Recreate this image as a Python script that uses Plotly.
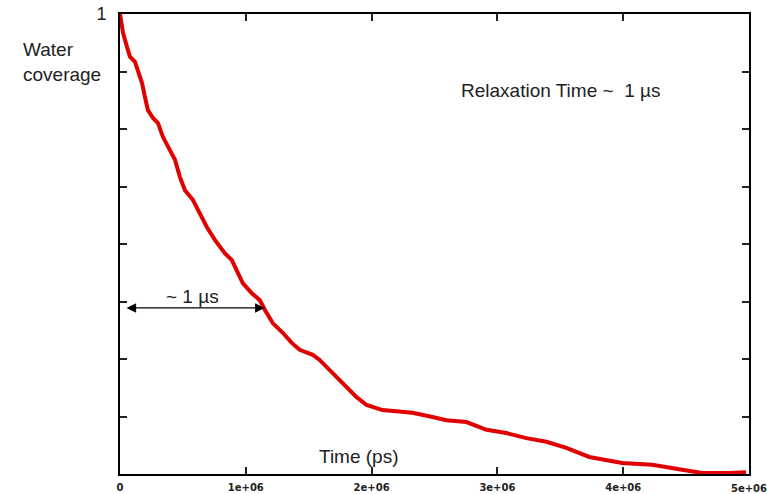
import plotly.graph_objects as go

# Time (ps) and water coverage
time_ps = [0, 0.008e6, 0.024e6, 0.056e6, 0.079e6, 0.119e6, 0.143e6, 0.175e6, 0.198e6,
           0.222e6, 0.262e6, 0.302e6, 0.341e6, 0.397e6, 0.437e6, 0.476e6, 0.516e6,
           0.579e6, 0.635e6, 0.690e6, 0.754e6, 0.833e6, 0.889e6, 0.929e6, 0.976e6,
           1.048e6, 1.111e6, 1.151e6, 1.214e6, 1.294e6, 1.365e6, 1.429e6, 1.532e6,
           1.587e6, 1.611e6, 1.746e6, 1.881e6, 1.960e6, 2.087e6, 2.325e6,
           2.484e6, 2.595e6, 2.754e6, 2.913e6, 3.071e6, 3.230e6, 3.389e6, 3.548e6,
           3.730e6, 3.865e6, 3.992e6, 4.230e6, 4.389e6, 4.627e6, 4.841e6, 4.976e6]
coverage = [1.0, 0.983, 0.959, 0.928, 0.907, 0.896, 0.878, 0.850, 0.820,
            0.791, 0.774, 0.763, 0.733, 0.704, 0.683, 0.646, 0.617,
            0.596, 0.567, 0.537, 0.509, 0.480, 0.465, 0.443, 0.415,
            0.393, 0.378, 0.357, 0.328, 0.307, 0.285, 0.270, 0.259,
            0.248, 0.241, 0.204, 0.167, 0.150, 0.139, 0.133,
            0.124, 0.117, 0.113, 0.096, 0.089, 0.078, 0.070, 0.057,
            0.037, 0.030, 0.024, 0.020, 0.013, 0.002, 0.002, 0.004]

x_tickvals = [0, 1e6, 2e6, 3e6, 4e6, 5e6]
x_ticktext = ["0", "1e+06", "2e+06", "3e+06", "4e+06", "5e+06"]
y_tickvals = [0, 0.125, 0.25, 0.375, 0.5, 0.625, 0.75, 0.875, 1.0]
y_ticktext = ["", "", "", "", "", "", "", "", "1"]

fig = go.Figure()
fig.add_trace(go.Scatter(x=time_ps, y=coverage, mode="lines",
                         line=dict(color="#e00000", width=4), showlegend=False))

font = "Liberation Sans, Arial, sans-serif"
txt = "#222222"
tickfont = dict(family="DejaVu Sans", size=10, color="#222", weight="bold")

fig.update_layout(
    width=767, height=494,
    margin=dict(l=120, r=18, t=14, b=20),
    paper_bgcolor="white", plot_bgcolor="white",
    font=dict(family=font, color=txt),
    xaxis=dict(range=[0, 5e6], tickvals=x_tickvals,
               ticktext=x_ticktext[:-1] + [""],
               ticks="inside", ticklen=7, tickwidth=1.5, tickcolor="#222",
               showline=True, linecolor="black", linewidth=2, mirror="allticks",
               showgrid=False, zeroline=False, automargin=False,
               tickfont=tickfont, ticklabelstandoff=3),
    yaxis=dict(range=[0, 1], tickvals=y_tickvals, ticktext=y_ticktext,
               ticks="inside", ticklen=7, tickwidth=1.5, tickcolor="#222",
               showline=True, linecolor="black", linewidth=2, mirror="allticks",
               showgrid=False, zeroline=False, automargin=False,
               tickfont=dict(family=font, size=18, color="#222"),
               ticklabelstandoff=8),
)

# last x tick label, which runs off the right edge of the page
fig.add_annotation(x=x_tickvals[-1], y=0, yref="y", xref="x", yshift=-14,
                   showarrow=False, text=x_ticktext[-1], font=tickfont,
                   xanchor="center", yanchor="middle")

fig.add_annotation(xref="paper", yref="paper", x=-0.157, y=0.895, xanchor="left",
                   yanchor="middle", align="left", showarrow=False,
                   text="Water<br>coverage", font=dict(family=font, size=19, color=txt))
fig.add_annotation(x=3.5e6, y=0.833, showarrow=False, text="Relaxation Time ~  1 µs",
                   font=dict(family=font, size=19, color=txt))
fig.add_annotation(x=1.9e6, y=0.037, showarrow=False, text="Time (ps)",
                   font=dict(family=font, size=19, color=txt))
fig.add_annotation(x=0.58e6, y=0.386, showarrow=False, text="~ 1 µs",
                   font=dict(family=font, size=19, color=txt))
fig.add_annotation(x=1.15e6, y=0.361, ax=0.04e6, ay=0.361, axref="x", ayref="y",
                   xref="x", yref="y", showarrow=True, arrowside="end+start",
                   arrowhead=2, arrowsize=1.6, arrowwidth=1.2, arrowcolor="black",
                   text="")

fig.write_html("out.html")
